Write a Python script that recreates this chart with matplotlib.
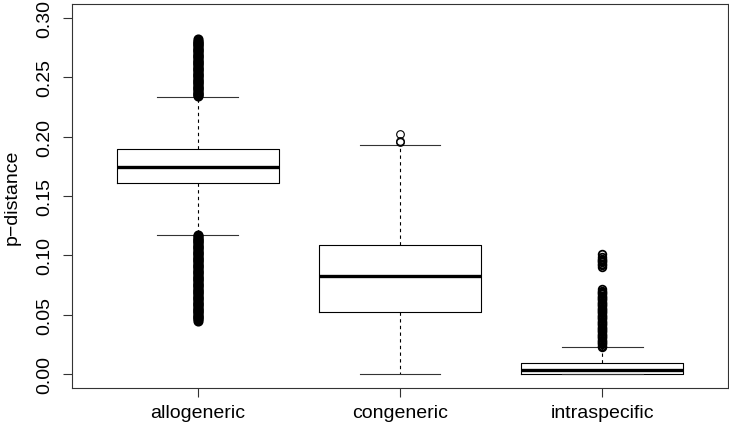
import matplotlib
matplotlib.use("Agg")
import matplotlib.pyplot as plt

plt.rcParams['font.family'] = ['Liberation Sans', 'DejaVu Sans']

groups = ["allogeneric", "congeneric", "intraspecific"]

# box statistics
whislo = [0.1171, 0.0, 0.0]
q1 = [0.1612, 0.0525, 0.0]
med = [0.1747, 0.0829, 0.003]
q3 = [0.1896, 0.109, 0.009]
whishi = [0.2337, 0.1932, 0.023]

# outliers (dense columns read as closely spaced values)
allo_out = [0.234, 0.235, 0.236, 0.237, 0.238, 0.239, 0.240, 0.241, 0.242, 0.243,
            0.244, 0.245, 0.246, 0.247, 0.248, 0.249, 0.250, 0.251, 0.252, 0.253,
            0.254, 0.255, 0.256, 0.257, 0.258, 0.259, 0.260, 0.261, 0.262, 0.263,
            0.264, 0.265, 0.266, 0.267, 0.268, 0.269, 0.270, 0.271, 0.272, 0.273,
            0.274, 0.275, 0.276, 0.277, 0.278, 0.279, 0.280, 0.281, 0.282,
            0.045, 0.046, 0.047, 0.048, 0.049, 0.050, 0.051, 0.052, 0.053, 0.054,
            0.055, 0.056, 0.057, 0.058, 0.059, 0.060, 0.061, 0.062, 0.063, 0.064,
            0.065, 0.066, 0.067, 0.068, 0.069, 0.070, 0.071, 0.072, 0.073, 0.074,
            0.075, 0.076, 0.077, 0.078, 0.079, 0.080, 0.081, 0.082, 0.083, 0.084,
            0.085, 0.086, 0.087, 0.088, 0.089, 0.090, 0.091, 0.092, 0.093, 0.094,
            0.095, 0.096, 0.097, 0.098, 0.099, 0.100, 0.101, 0.102, 0.103, 0.104,
            0.105, 0.106, 0.107, 0.108, 0.109, 0.110, 0.111, 0.112, 0.113, 0.114,
            0.115, 0.116, 0.117]
cong_out = [0.1952, 0.196, 0.2025]
intra_out = [0.023, 0.024, 0.025, 0.026, 0.027, 0.028, 0.029, 0.030, 0.031, 0.032,
             0.033, 0.034, 0.035, 0.036, 0.037, 0.038, 0.039, 0.040, 0.041, 0.042,
             0.043, 0.044, 0.045, 0.046, 0.047, 0.048, 0.049, 0.050, 0.051, 0.052,
             0.053, 0.054, 0.055, 0.056, 0.057, 0.058, 0.059, 0.060, 0.061, 0.062,
             0.063, 0.064, 0.065, 0.066, 0.067, 0.068, 0.069, 0.070, 0.0716,
             0.0899, 0.0915, 0.093, 0.094, 0.095, 0.096, 0.097, 0.0985, 0.101]
outliers = [allo_out, cong_out, intra_out]

stats = []
for i in range(len(groups)):
    stats.append(dict(label=groups[i], whislo=whislo[i], q1=q1[i], med=med[i],
                      q3=q3[i], whishi=whishi[i], fliers=outliers[i]))

fig = plt.figure(figsize=(7.29, 4.27), dpi=100)
ax = fig.add_axes([72/729, 1 - 389/427, (728 - 72)/729, (389 - 5)/427])

bp = ax.bxp(stats, positions=[1, 2, 3], widths=0.8,
            boxprops=dict(color="black", linewidth=0.8),
            medianprops=dict(color="black", linewidth=2.4),
            whiskerprops=dict(color="black", linewidth=0.8, linestyle=(0, (3, 3))),
            capprops=dict(color="#333333", linewidth=0.8),
            capwidths=0.4,
            flierprops=dict(marker="o", markersize=5.5, markerfacecolor="none",
                            markeredgecolor="black", markeredgewidth=0.8))
# dense outlier columns render solid, as in the original
bp["fliers"][0].set_markeredgewidth(1.8)
bp["fliers"][2].set_markeredgewidth(1.3)

ax.set_xlim(0.38, 3.62)
ax.set_ylim(-0.0118, 0.3118)
ax.set_yticks([0.0, 0.05, 0.10, 0.15, 0.20, 0.25, 0.30])
ax.set_yticklabels(["0.00", "0.05", "0.10", "0.15", "0.20", "0.25", "0.30"],
                   rotation=90, va="center")
ax.set_xticks([1, 2, 3])
ax.set_xticklabels(groups)
ax.tick_params(axis="both", labelsize=14, length=6.5, width=0.8, color="#333333")
ax.tick_params(axis="x", pad=5)
ax.tick_params(axis="y", pad=7)
ax.set_ylabel("p\u2212distance", fontsize=14, labelpad=11.5)
for s in ax.spines.values():
    s.set_linewidth(0.8)
    s.set_color("#333333")

fig.savefig("out.png", dpi=100)
